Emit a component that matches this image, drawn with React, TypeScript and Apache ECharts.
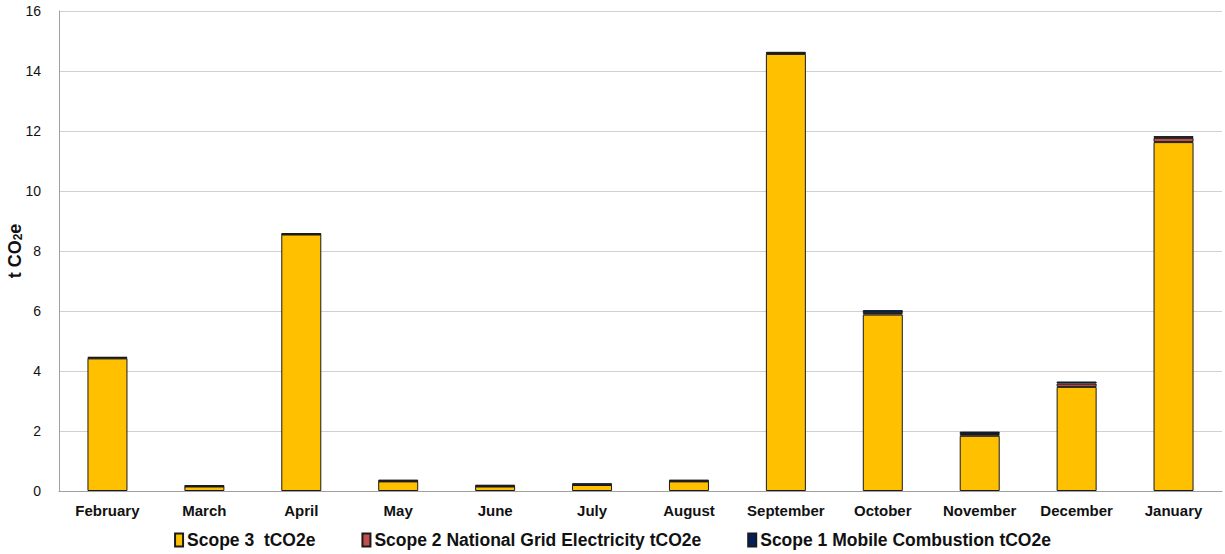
import React, { useEffect, useRef } from "react";
import * as echarts from "echarts";

const months = [
  "February", "March", "April", "May", "June", "July",
  "August", "September", "October", "November", "December", "January",
];
const scope3 = [4.42, 0.15, 8.55, 0.32, 0.15, 0.2, 0.32, 14.57, 5.88, 1.84, 3.47, 11.63];
const scope2 = [0.02, 0.01, 0.01, 0.01, 0.01, 0.01, 0.01, 0.02, 0.05, 0.06, 0.11, 0.14];
const scope1 = [0.03, 0.04, 0.04, 0.05, 0.05, 0.05, 0.05, 0.05, 0.1, 0.08, 0.07, 0.06];
const yTicks = { min: 0, max: 16, interval: 2 };

const FONT = "'Liberation Sans', Arial, sans-serif";

export default function App() {
  const ref = useRef<HTMLDivElement>(null);

  useEffect(() => {
    if (!ref.current) return;
    const chart = echarts.init(ref.current, null, { renderer: "svg" });
    const barStyle = (color: string) => ({
      color,
      borderColor: "#1a1a1a",
      borderWidth: 1,
    });
    chart.setOption({
      animation: false,
      textStyle: { fontFamily: FONT },
      grid: { left: 59, right: 3, top: 11, bottom: 63, outerBoundsMode: "none", containLabel: false },
      // rotated unit title beside the value axis
      graphic: [
        {
          type: "text",
          x: 15,
          y: 251,
          rotation: Math.PI / 2,
          style: {
            text: "{a|t CO}{b|2}{a|e}",
            align: "center",
            verticalAlign: "middle",
            rich: {
              a: { fontFamily: FONT, fontWeight: "bold", fontSize: 18, fill: "#111", color: "#111" },
              b: { fontFamily: FONT, fontWeight: "bold", fontSize: 12, fill: "#111", color: "#111", verticalAlign: "bottom" },
            },
          },
        },
      ],
      legend: {
        bottom: 0,
        left: "center",
        itemWidth: 8,
        itemHeight: 13,
        itemGap: 46,
        icon: "rect",
        textStyle: { fontFamily: FONT, fontWeight: "bold", fontSize: 17.5, color: "#111", padding: [0, 0, 0, -1] },
        data: ["Scope 3  tCO2e", "Scope 2 National Grid Electricity tCO2e", "Scope 1 Mobile Combustion tCO2e"],
      },
      xAxis: {
        type: "category",
        data: months,
        axisLine: { lineStyle: { color: "#a0a0a0", width: 1 } },
        axisTick: { show: false },
        axisLabel: { interval: 0, color: "#111", fontWeight: "bold", fontSize: 15, margin: 12, fontFamily: FONT },
      },
      yAxis: {
        type: "value",
        min: yTicks.min,
        max: yTicks.max,
        interval: yTicks.interval,
        axisLine: { show: true, lineStyle: { color: "#a0a0a0", width: 1 } },
        axisTick: { show: false },
        axisLabel: { color: "#111", fontSize: 14, margin: 18, fontFamily: FONT },
        splitLine: { lineStyle: { color: "#d0d0d0", width: 1 } },
      },
      series: [
        { name: "Scope 3  tCO2e", type: "bar", stack: "total", data: scope3, barWidth: 40, itemStyle: barStyle("#FFC000") },
        { name: "Scope 2 National Grid Electricity tCO2e", type: "bar", stack: "total", data: scope2, barWidth: 40, itemStyle: barStyle("#C0504D") },
        { name: "Scope 1 Mobile Combustion tCO2e", type: "bar", stack: "total", data: scope1, barWidth: 40, itemStyle: barStyle("#002060") },
      ],
    });
    return () => chart.dispose();
  }, []);

  return <div ref={ref} style={{ width: 1225, height: 554, position: "absolute", left: 0, top: 0, background: "#fff" }} />;
}
